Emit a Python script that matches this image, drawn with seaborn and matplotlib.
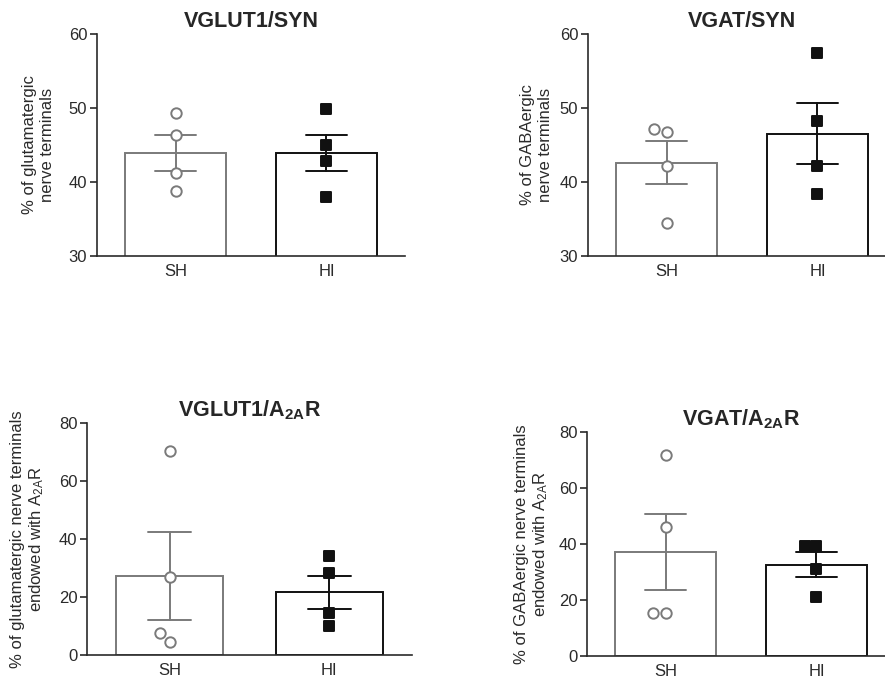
import matplotlib
matplotlib.use("Agg")
import matplotlib.pyplot as plt
import seaborn as sns
import pandas as pd


groups = ["SH", "HI"]

vglut1_syn_sh = [49.3, 46.3, 41.2, 38.8]
vglut1_syn_hi = [49.9, 45.0, 42.8, 38.0]
vgat_syn_sh = [46.7, 47.2, 42.1, 34.5]
vgat_syn_hi = [57.4, 48.2, 42.1, 38.4]
vglut1_a2a_sh = [70.2, 26.8, 7.5, 4.6]
vglut1_a2a_hi = [34.2, 28.2, 14.4, 10.0]
vgat_a2a_sh = [71.7, 46.1, 15.4, 15.4]
vgat_a2a_hi = [39.3, 39.3, 30.9, 21.1]

titles = ["VGLUT1/SYN", "VGAT/SYN", "VGLUT1/A$_{2A}$R", "VGAT/A$_{2A}$R"]
ylabels = [
    "% of glutamatergic\nnerve terminals",
    "% of GABAergic\nnerve terminals",
    "% of glutamatergic nerve terminals\nendowed with A$_{2A}$R",
    "% of GABAergic nerve terminals\nendowed with A$_{2A}$R",
]
yticks_syn = [30, 40, 50, 60]
yticks_a2a = [0, 20, 40, 60, 80]

sns.set_style("ticks")
plt.rcParams["font.family"] = ["Liberation Sans", "DejaVu Sans"]
plt.rcParams["mathtext.default"] = "regular"

GRAY = "#7a7a7a"
BLACK = "#111111"
AXIS = "#2a2a2a"

W, H = 885, 684
fig = plt.figure(figsize=(W / 100, H / 100), dpi=100)


def px_axes(left, bottom, width, height):
    return fig.add_axes([left / W, (H - bottom) / H, width / W, height / H])


axes = [
    px_axes(97, 256, 308, 222),
    px_axes(588, 256, 308, 222),
    px_axes(87, 655, 325, 232),
    px_axes(587, 656, 308, 224),
]

panels = [
    (vglut1_syn_sh, vglut1_syn_hi, yticks_syn),
    (vgat_syn_sh, vgat_syn_hi, yticks_syn),
    (vglut1_a2a_sh, vglut1_a2a_hi, yticks_a2a),
    (vgat_a2a_sh, vgat_a2a_hi, yticks_a2a),
]
labelpads = [10, 5, 9, 6]

styles = {
    "SH": dict(edge=GRAY, marker="o", face="white", size=7.5),
    "HI": dict(edge=BLACK, marker="s", face=BLACK, size=6.5),
}

for ax, (sh, hi, yt), title, ylab, lp in zip(axes, panels, titles, ylabels, labelpads):
    df = pd.DataFrame({
        "group": ["SH"] * len(sh) + ["HI"] * len(hi),
        "value": sh + hi,
    })
    for g in groups:
        st = styles[g]
        sub = df[df["group"] == g]
        sns.barplot(data=sub, x="group", y="value", order=groups,
                    color="white", edgecolor=st["edge"], linewidth=1.4,
                    width=0.67, errorbar="se", capsize=0.27,
                    err_kws={"color": st["edge"], "linewidth": 1.4},
                    ax=ax)
    for g in groups:
        st = styles[g]
        sub = df[df["group"] == g]
        sns.swarmplot(data=sub, x="group", y="value", order=groups,
                      marker=st["marker"], color=st["face"],
                      edgecolor=st["edge"], linewidth=1.4,
                      size=st["size"], ax=ax, zorder=5)

    ax.set_xlim(-0.52, 1.52)
    ax.set_ylim(yt[0], yt[-1])
    ax.set_yticks(yt)
    ax.set_xlabel("")
    ax.set_ylabel(ylab, fontsize=12, color=AXIS, labelpad=lp)
    ax.set_title(title, fontsize=15.5, fontweight="bold", pad=5)
    ax.tick_params(axis="x", length=0, pad=6, labelsize=12, colors=AXIS)
    ax.tick_params(axis="y", length=5, width=1.2, pad=2, labelsize=12, colors=AXIS)
    sns.despine(ax=ax)
    for s in ("left", "bottom"):
        ax.spines[s].set_color(AXIS)
        ax.spines[s].set_linewidth(1.2)

fig.savefig("out.png", dpi=100)
